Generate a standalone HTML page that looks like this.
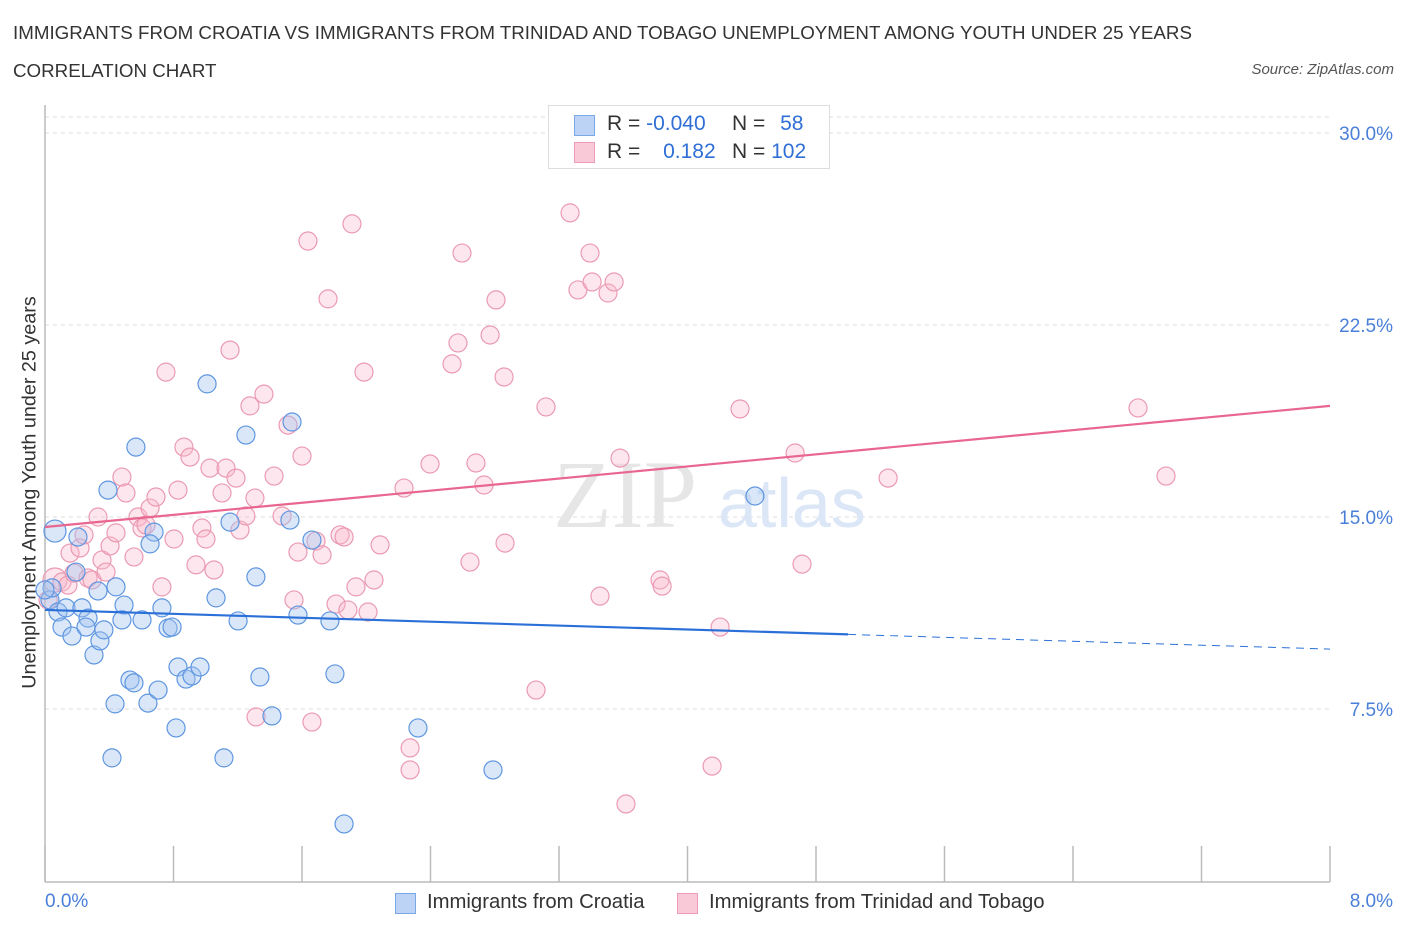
<!DOCTYPE html>
<html><head><meta charset="utf-8"><style>
body{margin:0;background:#fff;font-family:"Liberation Sans",sans-serif;}
#wrap{position:relative;width:1406px;height:930px;overflow:hidden}
.t{position:absolute;white-space:nowrap}
</style></head><body>
<div id="wrap">
<div class="t" style="left:13px;top:22px;font-size:18.75px;color:#333">IMMIGRANTS FROM CROATIA VS IMMIGRANTS FROM TRINIDAD AND TOBAGO UNEMPLOYMENT AMONG YOUTH UNDER 25 YEARS</div>
<div class="t" style="left:13px;top:60px;font-size:18.75px;color:#333">CORRELATION CHART</div>
<div class="t" style="right:12px;top:61px;font-size:15px;color:#555;font-style:italic">Source: ZipAtlas.com</div>
<svg id="svg" width="1406" height="930" style="position:absolute;left:0;top:0"></svg>
</div>
<script>
const blueX=[0.062,0.031,0.044,0.081,0.106,0.168,0.131,0.205,0.193,0.230,0.268,0.255,0.305,0.342,0.367,0.392,0.442,0.330,0.492,0.479,0.436,0.417,0.529,0.554,0.566,0.604,0.641,0.679,0.654,0.704,0.728,0.766,0.791,0.816,0.828,0.878,0.915,0.965,1.009,1.065,1.114,1.152,1.202,1.251,1.313,1.338,1.413,1.525,1.538,1.575,1.662,1.774,1.805,1.862,2.322,2.789,4.420,0.0];
const blueY=[14.45,11.76,12.23,11.29,10.70,10.35,11.45,14.22,12.85,11.45,11.05,10.70,9.61,10.16,10.59,16.05,12.27,12.11,11.56,10.98,7.70,5.59,8.63,8.52,17.73,10.98,7.73,14.41,13.95,8.24,11.45,10.66,10.70,6.76,9.14,8.67,8.79,9.14,20.20,11.84,5.59,14.80,10.94,18.20,12.66,8.75,7.23,14.88,18.71,11.17,14.10,10.94,8.87,3.01,6.76,5.12,15.82,12.15];
const pinkX=[0.062,0.019,0.106,0.143,0.156,0.181,0.218,0.243,0.268,0.293,0.330,0.355,0.380,0.405,0.442,0.479,0.504,0.554,0.579,0.604,0.629,0.654,0.691,0.728,0.753,0.803,0.828,0.865,0.903,0.940,0.977,1.002,1.027,1.052,1.102,1.127,1.152,1.189,1.214,1.251,1.276,1.307,1.314,1.363,1.426,1.476,1.513,1.550,1.575,1.600,1.637,1.662,1.687,1.725,1.762,1.812,1.837,1.862,1.886,1.911,1.936,1.986,2.011,2.048,2.086,2.235,2.273,2.273,2.397,2.534,2.571,2.596,2.646,2.683,2.733,2.771,2.808,2.858,2.864,3.057,3.119,3.269,3.318,3.393,3.406,3.455,3.505,3.543,3.580,3.617,3.829,3.842,4.153,4.203,4.327,4.670,4.713,5.249,6.805,6.979];
const pinkY=[12.54,11.76,12.46,12.34,13.59,12.81,13.79,14.30,12.62,12.54,15.0,13.32,12.85,13.87,14.38,16.56,15.94,13.44,15.0,14.57,14.69,15.35,15.78,12.27,20.66,14.14,16.05,17.73,17.34,13.13,14.57,14.14,16.91,12.93,15.94,16.91,21.52,16.52,14.49,15.04,19.34,15.74,7.19,19.80,16.60,15.04,18.59,11.76,13.63,17.38,25.78,6.99,14.06,13.52,23.52,11.60,14.30,14.22,11.37,26.45,12.27,20.66,11.29,12.54,13.91,16.13,5.98,5.12,17.07,20.98,21.80,25.31,13.24,17.11,16.25,22.11,23.48,20.47,13.98,8.24,19.30,26.88,23.87,25.31,24.18,11.91,23.75,24.18,17.30,3.79,12.54,12.30,5.27,10.70,19.22,17.50,13.16,16.52,19.26,16.60];
const blueTrend=[11.37,9.84];
const pinkTrend=[14.61,19.34];
const yTicks=[7.5,15,22.5,30];
const yTickLabels=["7.5%","15.0%","22.5%","30.0%"];

const svg=document.getElementById('svg');
const NS='http://www.w3.org/2000/svg';
const X=v=>45+v/8*1285;
const Y=v=>901-v/7.5*192;
function mk(tag,attrs,parent){const e=document.createElementNS(NS,tag);for(const k in attrs)e.setAttribute(k,attrs[k]);(parent||svg).appendChild(e);return e;}

let g=mk('line',{x1:45,x2:1330,y1:117,y2:117,stroke:'#ddd','stroke-dasharray':'4,4'});


yTicks.forEach((v,i)=>{
 const l=mk('line',{x1:45,x2:1330,y1:Y(v),y2:Y(v),stroke:'#ddd','stroke-dasharray':'4,4'});
 
 
 const t=mk('text',{x:1393,y:Y(v)+7,'text-anchor':'end','font-size':19,fill:'#4a7fd8','font-family':'Liberation Sans, sans-serif'});
 t.textContent=yTickLabels[i];
 
 
});
let a=mk('line',{x1:45,x2:45,y1:105,y2:882,stroke:'#bbb','stroke-width':1.5});


a=mk('line',{x1:45,x2:1330,y1:882,y2:882,stroke:'#bbb','stroke-width':1.5});


for(let i=0;i<=10;i++){
 const t=mk('line',{x1:X(i*0.8),x2:X(i*0.8),y1:846,y2:882,stroke:'#bbb','stroke-width':1.5});
 
 
}
let w=mk('text',{x:553,y:527,'font-size':96,fill:'#e6e6e6','font-family':'Liberation Serif, serif'});
w.textContent='ZIP';


w=mk('text',{x:718,y:527,'font-size':70,fill:'#dbe6f6','font-family':'Liberation Sans, sans-serif'});
w.textContent='atlas';



pinkX.forEach((x,i)=>{
 const c=mk('circle',{cx:X(x),cy:Y(pinkY[i]),r:i===0?12:9,fill:'rgba(248,182,204,0.35)',stroke:'#eb9ab3','stroke-width':1.2});
 
 
});
blueX.forEach((x,i)=>{
 const c=mk('circle',{cx:X(x),cy:Y(blueY[i]),r:i===0?11:9,fill:'rgba(160,195,240,0.4)',stroke:'#5f96e0','stroke-width':1.2});
 
 
});
const by=x=>blueTrend[0]+(blueTrend[1]-blueTrend[0])*x/8;
let tl=mk('line',{x1:X(0),y1:Y(by(0)),x2:X(5),y2:Y(by(5)),stroke:'#2b70d8','stroke-width':2.2});


tl=mk('line',{x1:X(5),y1:Y(by(5)),x2:X(8),y2:Y(by(8)),stroke:'#2b70d8','stroke-width':1,'stroke-dasharray':'8,6'});


tl=mk('line',{x1:X(0),y1:Y(pinkTrend[0]),x2:X(8),y2:Y(pinkTrend[1]),stroke:'#e8668f','stroke-width':2.2});


</script>
<div class="t" style="left:-170px;top:481px;width:400px;text-align:center;transform:rotate(-90deg);font-size:19.8px;color:#333">Unemployment Among Youth under 25 years</div>
<div class="t" style="left:45px;top:891px;font-size:19px;color:#4a7fd8">0.0%</div>
<div class="t" style="right:13px;top:891px;font-size:19px;color:#4a7fd8">8.0%</div>
<div style="position:absolute;left:548px;top:105px;width:280px;height:62px;border:1px solid #ddd;background:#fff;font-size:21px">
 <div style="position:absolute;left:25px;top:9px;width:19px;height:19px;background:#bcd3f5;border:1px solid #7aa7e6"></div>
 <div class="t" style="left:58px;top:6px;color:#333">R = <span style="color:#2f6fd6">-0.040</span></div>
 <div class="t" style="left:183px;top:6px;color:#333">N = <span style="color:#2f6fd6;margin-left:9px">58</span></div>
 <div style="position:absolute;left:25px;top:36px;width:19px;height:19px;background:#f9c9d8;border:1px solid #ec9cb5"></div>
 <div class="t" style="left:58px;top:34px;color:#333">R = <span style="color:#2f6fd6;margin-left:17px">0.182</span></div>
 <div class="t" style="left:183px;top:34px;color:#333">N = <span style="color:#2f6fd6">102</span></div>
</div>
<div style="position:absolute;left:395px;top:891px;font-size:20.3px;color:#333">
 <div style="position:absolute;left:0;top:2px;width:19px;height:19px;background:#bcd3f5;border:1px solid #7aa7e6"></div>
 <div class="t" style="left:32px;top:0">Immigrants from Croatia</div></div>
<div style="position:absolute;left:677px;top:891px;font-size:20.3px;color:#333">
 <div style="position:absolute;left:0;top:2px;width:19px;height:19px;background:#f9c9d8;border:1px solid #ec9cb5"></div>
 <div class="t" style="left:32px;top:0">Immigrants from Trinidad and Tobago</div></div>
</body></html>
